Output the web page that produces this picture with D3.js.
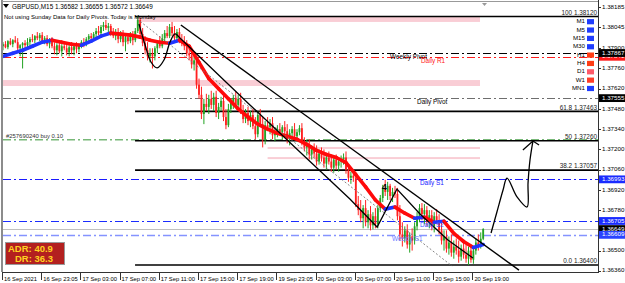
<!DOCTYPE html>
<html><head><meta charset="utf-8">
<script src="https://cdn.jsdelivr.net/npm/d3@7"></script>
<style>html,body{margin:0;padding:0;background:#fff;overflow:hidden}svg{display:block;font-family:"Liberation Sans",Arial,sans-serif}</style>
</head><body><svg id="c" width="625" height="283"></svg>
<script>
// ---------------- DATA ----------------
const symbolName = "GBPUSD,M15";
const lastQuote = ["1.36582","1.36655","1.36572","1.36649"];
const infoText = "Not using Sunday Data for Daily Pivots.  Today is Monday";
const timeLabels = ["16 Sep 2021","16 Sep 23:05","17 Sep 03:00","17 Sep 07:00","17 Sep 11:00","17 Sep 15:00","17 Sep 19:00","19 Sep 23:05","20 Sep 03:00","20 Sep 07:00","20 Sep 11:00","20 Sep 15:00","20 Sep 19:00"];
const timeLabelStep = 16;
const priceTicks = [1.38185,1.38045,1.37900,1.37760,1.37620,1.37480,1.37340,1.37200,1.37060,1.36920,1.36780,1.36640,1.36500,1.36360];
// [open, high, low, close] per M15 bar
const candles = [
[1.37914,1.37942,1.37886,1.37928],[1.37928,1.37949,1.37900,1.37907],[1.37907,1.37956,1.37893,1.37949],[1.37949,1.37970,1.37921,1.37928],[1.37928,1.37963,1.37907,1.37956],
[1.37956,1.37984,1.37935,1.37942],[1.37942,1.37970,1.37872,1.37900],[1.37900,1.37928,1.37844,1.37921],[1.37921,1.37942,1.37760,1.37935],[1.37935,1.37956,1.37900,1.37921],
[1.37921,1.37970,1.37907,1.37942],[1.37942,1.37977,1.37914,1.37963],[1.37963,1.37998,1.37942,1.37956],[1.37956,1.37991,1.37935,1.37984],[1.37984,1.38012,1.37956,1.37970],
[1.37970,1.38005,1.37949,1.37991],[1.37991,1.38012,1.37935,1.37949],[1.37949,1.37984,1.37928,1.37970],[1.37970,1.37991,1.37914,1.37928],[1.37928,1.37970,1.37900,1.37956],
[1.37956,1.37977,1.37900,1.37914],[1.37914,1.37942,1.37858,1.37886],[1.37886,1.37935,1.37851,1.37921],[1.37921,1.37942,1.37865,1.37879],[1.37879,1.37928,1.37844,1.37914],
[1.37914,1.37949,1.37886,1.37900],[1.37900,1.37935,1.37851,1.37872],[1.37872,1.37921,1.37844,1.37907],[1.37907,1.37942,1.37858,1.37886],[1.37886,1.37928,1.37851,1.37914],
[1.37914,1.37942,1.37865,1.37893],[1.37893,1.37935,1.37872,1.37921],[1.37921,1.37956,1.37900,1.37942],[1.37942,1.37970,1.37907,1.37928],[1.37928,1.37977,1.37914,1.37963],
[1.37963,1.37998,1.37942,1.37984],[1.37984,1.38005,1.37949,1.37970],[1.37970,1.38012,1.37956,1.37998],[1.37998,1.38040,1.37977,1.38019],[1.38019,1.38054,1.37991,1.38005],
[1.38005,1.38061,1.37984,1.38047],[1.38047,1.38082,1.38019,1.38061],[1.38061,1.38096,1.38026,1.38040],[1.38040,1.38075,1.38012,1.38054],[1.38054,1.38068,1.37984,1.38005],
[1.38005,1.38040,1.37970,1.37984],[1.37984,1.38033,1.37956,1.38012],[1.38012,1.38040,1.37935,1.37963],[1.37963,1.38019,1.37942,1.37998],[1.37998,1.38026,1.37914,1.37942],
[1.37942,1.37998,1.37879,1.37977],[1.37977,1.38005,1.37928,1.37949],[1.37949,1.38012,1.37935,1.37991],[1.37991,1.38019,1.37921,1.37956],[1.37956,1.38040,1.37942,1.38019],
[1.38019,1.38120,1.38005,1.38096],[1.38096,1.38110,1.37970,1.37998],[1.37998,1.38040,1.37914,1.37935],[1.37935,1.37984,1.37858,1.37886],[1.37886,1.37942,1.37816,1.37844],
[1.37844,1.37900,1.37802,1.37865],[1.37865,1.37900,1.37760,1.37844],[1.37844,1.37914,1.37816,1.37900],[1.37900,1.37956,1.37865,1.37935],[1.37935,1.37984,1.37900,1.37914],
[1.37914,1.37998,1.37900,1.37970],[1.37970,1.38026,1.37942,1.38005],[1.38005,1.38054,1.37970,1.37984],[1.37984,1.38068,1.37970,1.38047],[1.38047,1.38082,1.37984,1.38005],
[1.38005,1.38054,1.37956,1.37970],[1.37970,1.38033,1.37942,1.38012],[1.38012,1.38040,1.37935,1.37956],[1.37956,1.37998,1.37914,1.37935],[1.37935,1.37984,1.37886,1.37914],
[1.37914,1.37956,1.37844,1.37865],[1.37865,1.37900,1.37816,1.37851],[1.37851,1.37886,1.37760,1.37788],[1.37788,1.37844,1.37746,1.37816],[1.37816,1.37844,1.37620,1.37648],
[1.37648,1.37690,1.37550,1.37578],[1.37578,1.37634,1.37410,1.37445],[1.37445,1.37550,1.37375,1.37515],[1.37515,1.37585,1.37466,1.37494],[1.37494,1.37578,1.37445,1.37550],
[1.37550,1.37606,1.37480,1.37508],[1.37508,1.37592,1.37466,1.37564],[1.37564,1.37606,1.37424,1.37452],[1.37452,1.37522,1.37410,1.37494],[1.37494,1.37564,1.37466,1.37536],
[1.37536,1.37578,1.37396,1.37424],[1.37424,1.37480,1.37340,1.37368],[1.37368,1.37515,1.37354,1.37480],[1.37480,1.37550,1.37452,1.37522],[1.37522,1.37578,1.37480,1.37557],
[1.37557,1.37599,1.37494,1.37508],[1.37508,1.37578,1.37480,1.37550],[1.37550,1.37592,1.37445,1.37466],[1.37466,1.37508,1.37382,1.37410],[1.37410,1.37480,1.37382,1.37452],
[1.37452,1.37494,1.37368,1.37396],[1.37396,1.37466,1.37354,1.37438],[1.37438,1.37480,1.37340,1.37361],[1.37361,1.37424,1.37270,1.37305],[1.37305,1.37466,1.37284,1.37438],
[1.37438,1.37480,1.37354,1.37375],[1.37375,1.37424,1.37214,1.37270],[1.37270,1.37396,1.37235,1.37368],[1.37368,1.37424,1.37326,1.37354],[1.37354,1.37410,1.37305,1.37382],
[1.37382,1.37424,1.37270,1.37298],[1.37298,1.37354,1.37256,1.37326],[1.37326,1.37368,1.37284,1.37340],[1.37340,1.37382,1.37298,1.37319],[1.37319,1.37368,1.37270,1.37354],
[1.37354,1.37396,1.37305,1.37326],[1.37326,1.37375,1.37242,1.37270],[1.37270,1.37340,1.37228,1.37312],[1.37312,1.37361,1.37284,1.37340],[1.37340,1.37382,1.37270,1.37291],
[1.37291,1.37340,1.37256,1.37319],[1.37319,1.37368,1.37298,1.37347],[1.37347,1.37382,1.37228,1.37249],[1.37249,1.37284,1.37186,1.37214],[1.37214,1.37270,1.37158,1.37235],
[1.37235,1.37270,1.37130,1.37165],[1.37165,1.37228,1.37130,1.37200],[1.37200,1.37242,1.37144,1.37172],[1.37172,1.37228,1.37088,1.37116],[1.37116,1.37200,1.37095,1.37172],
[1.37172,1.37214,1.37116,1.37144],[1.37144,1.37200,1.37074,1.37102],[1.37102,1.37172,1.37060,1.37144],[1.37144,1.37186,1.37095,1.37116],[1.37116,1.37165,1.37046,1.37074],
[1.37074,1.37144,1.37039,1.37130],[1.37130,1.37165,1.37060,1.37088],[1.37088,1.37144,1.37046,1.37116],[1.37116,1.37158,1.37074,1.37130],[1.37130,1.37172,1.37095,1.37144],
[1.37144,1.37186,1.37032,1.37060],[1.37060,1.37095,1.36976,1.37004],[1.37004,1.37046,1.36962,1.37018],[1.37018,1.37060,1.36976,1.37004],[1.37004,1.37046,1.36801,1.36822],
[1.36822,1.36878,1.36745,1.36780],[1.36780,1.36850,1.36696,1.36724],[1.36724,1.36815,1.36654,1.36794],[1.36794,1.36850,1.36668,1.36696],[1.36696,1.36780,1.36654,1.36752],
[1.36752,1.36808,1.36640,1.36675],[1.36675,1.36766,1.36647,1.36738],[1.36738,1.36794,1.36654,1.36682],[1.36682,1.36815,1.36654,1.36794],[1.36794,1.36885,1.36766,1.36864],
[1.36864,1.36955,1.36836,1.36934],[1.36934,1.36990,1.36878,1.36906],[1.36906,1.36976,1.36850,1.36948],[1.36948,1.36962,1.36850,1.36878],[1.36878,1.36934,1.36836,1.36906],
[1.36906,1.36948,1.36864,1.36892],[1.36892,1.36934,1.36710,1.36738],[1.36738,1.36815,1.36570,1.36612],[1.36612,1.36696,1.36528,1.36584],[1.36584,1.36668,1.36556,1.36640],
[1.36640,1.36682,1.36514,1.36542],[1.36542,1.36626,1.36486,1.36598],[1.36598,1.36654,1.36500,1.36570],[1.36570,1.36696,1.36542,1.36668],[1.36668,1.36766,1.36640,1.36738],
[1.36738,1.36822,1.36696,1.36794],[1.36794,1.36829,1.36710,1.36752],[1.36752,1.36822,1.36682,1.36780],[1.36780,1.36808,1.36668,1.36710],[1.36710,1.36780,1.36654,1.36745],
[1.36745,1.36780,1.36640,1.36668],[1.36668,1.36766,1.36626,1.36738],[1.36738,1.36787,1.36682,1.36710],[1.36710,1.36752,1.36612,1.36640],[1.36640,1.36696,1.36542,1.36570],
[1.36570,1.36640,1.36500,1.36598],[1.36598,1.36640,1.36486,1.36514],[1.36514,1.36598,1.36472,1.36556],[1.36556,1.36612,1.36458,1.36486],[1.36486,1.36570,1.36444,1.36528],
[1.36528,1.36584,1.36472,1.36500],[1.36500,1.36570,1.36416,1.36458],[1.36458,1.36542,1.36430,1.36514],[1.36514,1.36556,1.36444,1.36472],[1.36472,1.36542,1.36416,1.36444],
[1.36444,1.36528,1.36400,1.36500],[1.36500,1.36542,1.36416,1.36437],[1.36437,1.36528,1.36409,1.36500],[1.36500,1.36584,1.36472,1.36556],[1.36556,1.36612,1.36500,1.36528],
[1.36528,1.36626,1.36514,1.36582],[1.36582,1.36655,1.36572,1.36649]
];
// moving average, sampled every 4 bars
const maStep = 4;
const maValues = [1.37844,1.37865,1.37886,1.37914,1.37942,1.37956,1.37942,1.37928,1.37921,1.37949,
 1.37984,1.38005,1.37998,1.37991,1.37977,1.37956,1.37942,1.37935,1.37956,1.37914,
 1.37802,1.37690,1.37620,1.37550,1.37480,1.37424,1.37375,1.37340,1.37312,1.37291,
 1.37270,1.37235,1.37193,1.37165,1.37144,1.37109,1.37025,1.36941,1.36850,1.36787,
 1.36801,1.36759,1.36724,1.36731,1.36696,1.36703,1.36619,1.36563,1.36521,1.36542];
const fibLevels = ["100","61.8","50","38.2","0.0"];
const fibPrices = [1.38120,1.37463,1.37260,1.37057,1.36400];
const fibStartBar = 53.9;
const pivotNames = ["Weekly Pivot","Daily R1","Daily Pivot","Daily S1","Daily S2","Weekly S1"];
const pivotPrices = [1.37867,1.37841,1.37555,1.36993,1.36705,1.36609];
const bidPrice = 1.36649;
const orderLabel = "#257690240 buy 0.10";
const orderPrice = 1.37260;
// supply/demand zones: bar from, bar to, price high, price low
const zoneFrom = [54.7,-0.4,108,108];
const zoneTo = [194.7,194.7,194.7,194.7];
const zoneHigh = [1.38117,1.37680,1.37217,1.37147];
const zoneLow = [1.38082,1.37639,1.37203,1.37134];
// drawn objects (bar index, price)
const trendUpper = [[72.6,1.38061],[210.6,1.36365]];
const trendDotted = [[54.7,1.38103],[183.3,1.36393]];
const waveCurve = [[55.5,1.38068],[58.0,1.37923],[60.4,1.37805],[62.9,1.37764],[65.7,1.37819],[68.2,1.37944],[70.2,1.37999],[71.8,1.37978]];
const waveLines = [[71.8,1.37978],[100.8,1.37508],[121.2,1.37182],[141.6,1.36857],[152.7,1.36663],[160.8,1.36926],[170.2,1.36753],[181.6,1.36573],[191.8,1.36449]];
const projection = [[199.2,1.36622],[201.6,1.36767],[204.1,1.36919],[205.7,1.37002],[209.8,1.36871],[213.9,1.36802],[214.3,1.36968],[215.1,1.37127],[216.3,1.37258]];
const arrowHead = [[212.2,1.37196],[216.3,1.37258],[218.8,1.37231]];
const waveLabel = ["4", 154.7, 1.36933];
const tfNames = ["M1","M5","M15","M30","H1","H4","D1","W1","MN1"];
const adrText = ["ADR: 40.9","DR: 36.3"];

// ---------------- DRAW ----------------
const svg = d3.select("#c");
const W = 625, H = 283, axisX = 598, plotTop = 2, plotBottom = 272;
const x = d3.scaleLinear().domain([0, candles.length - 1]).range([3, 483.2]);
const y = d3.scaleLinear().domain([1.36352, 1.38220]).range([plotBottom, plotTop]);
const fmt = d3.format(".5f");
const dashdot = "8,3,2,3";

svg.append("rect").attr("width", W).attr("height", H).attr("fill", "#fff");
const plot = svg.append("g");
plot.append("clipPath").attr("id","clip").append("rect").attr("x",3).attr("y",plotTop).attr("width",axisX-3).attr("height",plotBottom-plotTop);
const P = plot.append("g").attr("clip-path","url(#clip)");

// zones
P.selectAll("rect.zone").data(zoneFrom).join("rect").attr("class","zone")
  .attr("x",(d)=>x(d)).attr("width",(d,i)=>x(zoneTo[i])-x(d))
  .attr("y",(d,i)=>y(zoneHigh[i])).attr("height",(d,i)=>Math.max(2,y(zoneLow[i])-y(zoneHigh[i])))
  .attr("fill","#f9cdd5");

// order line
P.append("line").attr("x1",3).attr("x2",axisX).attr("y1",y(orderPrice)-1).attr("y2",y(orderPrice)-1)
  .attr("stroke","#78b878").attr("stroke-width",1.3).attr("stroke-dasharray",dashdot);

// pivot lines
const pivotColors = ["#000000","#ff1a1a","#6e6e6e","#1a1aff","#1a2cff","#8593ff"];
const pivotWidths = [1,1,1,1,1,1.6];
P.selectAll("line.piv").data(pivotPrices).join("line").attr("class","piv")
  .attr("x1",3).attr("x2",axisX).attr("y1",d=>Math.round(y(d))+0.5).attr("y2",d=>Math.round(y(d))+0.5)
  .attr("stroke",(d,i)=>pivotColors[i]).attr("stroke-width",(d,i)=>pivotWidths[i]).attr("stroke-dasharray",dashdot);

// bid line
P.append("line").attr("x1",3).attr("x2",axisX).attr("y1",Math.round(y(bidPrice))+0.5).attr("y2",Math.round(y(bidPrice))+0.5)
  .attr("stroke","#c0c0c0").attr("stroke-width",1);

// fib lines
P.selectAll("line.fib").data(fibPrices).join("line").attr("class","fib")
  .attr("x1",x(fibStartBar)).attr("x2",axisX).attr("y1",d=>y(d)).attr("y2",d=>y(d))
  .attr("stroke","#000").attr("stroke-width",1.6);

// candles
const cg = P.append("g");
cg.selectAll("line.wick").data(candles).join("line").attr("class","wick")
  .attr("x1",(d,i)=>x(i)).attr("x2",(d,i)=>x(i)).attr("y1",d=>y(d[1])).attr("y2",d=>y(d[2]))
  .attr("stroke",d=>d[3]>=d[0]?"#22a322":"#ff2020").attr("stroke-width",1);
cg.selectAll("rect.body").data(candles).join("rect").attr("class","body")
  .attr("x",(d,i)=>x(i)-0.9).attr("width",1.8)
  .attr("y",d=>y(Math.max(d[0],d[3]))).attr("height",d=>Math.max(1,Math.abs(y(d[0])-y(d[3]))))
  .attr("fill",d=>d[3]>=d[0]?"#22a322":"#ff2020");

// moving average
const maSegs = d3.pairs(maValues.map((v,k)=>[k*maStep,v]));
const mg = P.append("g");
mg.selectAll("line").data(maSegs).join("line")
  .attr("x1",d=>x(d[0][0])).attr("y1",d=>y(d[0][1])).attr("x2",d=>x(d[1][0])).attr("y2",d=>y(d[1][1]))
  .attr("stroke",d=>d[1][1]>d[0][1]?"#1f35ff":"#ff0a0a").attr("stroke-width",3.6).attr("stroke-linecap","round");

// trend lines and drawings
const ln = ()=>d3.line().x(d=>x(d[0])).y(d=>y(d[1]));
P.append("path").attr("d",ln()(trendDotted)).attr("fill","none").attr("stroke","#777").attr("stroke-width",0.9).attr("stroke-dasharray","2,2");
P.append("path").attr("d",ln()(trendUpper)).attr("fill","none").attr("stroke","#000").attr("stroke-width",1.4);
P.append("path").attr("d",ln().curve(d3.curveCatmullRom.alpha(0.5))(waveCurve)).attr("fill","none").attr("stroke","#000").attr("stroke-width",1.3);
P.append("path").attr("d",ln()(waveLines)).attr("fill","none").attr("stroke","#000").attr("stroke-width",1.3);
P.append("path").attr("d",ln().curve(d3.curveCatmullRom.alpha(0.5))(projection)).attr("fill","none").attr("stroke","#000").attr("stroke-width",1.3);
P.append("path").attr("d",ln()(arrowHead)).attr("fill","none").attr("stroke","#000").attr("stroke-width",1.3);
P.append("text").attr("x",x(waveLabel[1])).attr("y",y(waveLabel[2])).attr("dominant-baseline","middle")
  .attr("font-size",8.5).attr("font-weight","bold").attr("fill","#000").text(waveLabel[0]);

// pivot labels
const pivotTextColors = ["#000","#ff1a1a","#000","#1a1aff","#3a55ff","#6b7bff"];
const pivotLabelBar = [158,170.6,169,170.2,170.2,158.8];
P.selectAll("text.piv").data(pivotNames).join("text").attr("class","piv")
  .attr("x",(d,i)=>x(pivotLabelBar[i])).attr("y",(d,i)=>y(pivotPrices[i])+4.3)
  .attr("dominant-baseline","middle").attr("font-size",6.4).attr("fill",(d,i)=>pivotTextColors[i]).text(d=>d);

// fib labels
P.selectAll("text.fib").data(fibLevels).join("text").attr("class","fib")
  .attr("x",axisX-1).attr("y",(d,i)=>y(fibPrices[i])-1.8).attr("text-anchor","end")
  .attr("font-size",6.4).attr("fill","#222").text((d,i)=>d+" "+fmt(fibPrices[i]));

// order label
P.append("text").attr("x",6).attr("y",y(orderPrice)-2.5).attr("font-size",5.9).attr("fill","#333").text(orderLabel);

// header
svg.append("path").attr("d","M3,4 L9,4 L6,8 Z").attr("fill","#000");
svg.append("text").attr("x",12).attr("y",8.5).attr("font-size",6.4).attr("fill","#000")
  .text(symbolName+"  "+lastQuote.join(" "));
svg.append("text").attr("x",4).attr("y",18.5).attr("font-size",6.0).attr("fill","#000").text(infoText);
svg.append("path").attr("d","M482,3 L487,3 L484.5,6 Z").attr("fill","#999");

// frame
svg.append("line").attr("x1",2).attr("x2",2).attr("y1",0).attr("y2",plotBottom).attr("stroke","#666").attr("stroke-width",1.5);
svg.append("line").attr("x1",2).attr("x2",axisX).attr("y1",1.5).attr("y2",1.5).attr("stroke","#999").attr("stroke-width",1);
svg.append("line").attr("x1",2).attr("x2",axisX+0.5).attr("y1",plotBottom+0.5).attr("y2",plotBottom+0.5).attr("stroke","#333").attr("stroke-width",1);
svg.append("line").attr("x1",axisX+0.5).attr("x2",axisX+0.5).attr("y1",0).attr("y2",plotBottom+1).attr("stroke","#333").attr("stroke-width",1);

// price boxes (drawn over the axis labels)
const boxes = [[pivotPrices[1],"#ff1a1a"],[pivotPrices[0],"#000"],[pivotPrices[2],"#000"],[pivotPrices[3],"#1a2cff"],[pivotPrices[4],"#1a2cff"],[bidPrice,"#000"],[pivotPrices[5],"#2a44ff"]];
const boxY = boxes.map(b=>y(b[0]));
// price axis (labels hidden where a price box covers them)
const visTicks = priceTicks.filter(t=>boxY.every(by=>Math.abs(by-y(t))>4.5));
const ya = svg.append("g");
ya.selectAll("line").data(priceTicks).join("line").attr("x1",axisX).attr("x2",axisX+3)
  .attr("y1",d=>Math.round(y(d))+0.5).attr("y2",d=>Math.round(y(d))+0.5).attr("stroke","#333");
ya.selectAll("text").data(visTicks).join("text").attr("x",axisX+4).attr("y",d=>y(d))
  .attr("dominant-baseline","middle").attr("font-size",6.2).attr("fill","#000").text(d=>fmt(d));

const bg = svg.append("g");
boxes.forEach(b=>{
  const yy = y(b[0]);
  bg.append("rect").attr("x",axisX+1).attr("y",yy-3.9).attr("width",W-axisX-1).attr("height",7.8).attr("fill",b[1]);
  bg.append("text").attr("x",axisX+4).attr("y",yy).attr("dominant-baseline","middle").attr("font-size",6.2).attr("fill","#fff").text(fmt(b[0]));
});

// time axis
const xa = svg.append("g");
xa.selectAll("line").data(timeLabels).join("line")
  .attr("x1",(d,i)=>Math.round(x(i*timeLabelStep))-0.5).attr("x2",(d,i)=>Math.round(x(i*timeLabelStep))-0.5)
  .attr("y1",plotBottom).attr("y2",plotBottom+8).attr("stroke","#333");
xa.selectAll("text").data(timeLabels).join("text")
  .attr("x",(d,i)=>x(i*timeLabelStep)+1).attr("y",281).attr("font-size",5.8).attr("fill","#000").text(d=>d);

// timeframe legend
const tfColors = ["#1f3dff","#1f3dff","#1f3dff","#1f3dff","#ff3c14","#ff3c14","#ff5a6a","#ff3c28","#1f3dff"];
const lg = svg.append("g");
tfNames.forEach((n,i)=>{
  const cy = 21.7 + i*8.35;
  lg.append("text").attr("x",585).attr("y",cy).attr("text-anchor","end").attr("dominant-baseline","middle")
    .attr("font-size",6.2).attr("fill","#000").text(n);
  lg.append("rect").attr("x",587).attr("y",cy-2.6).attr("width",7).attr("height",5.2).attr("fill",tfColors[i]);
});

// ADR box
const ab = svg.append("g");
ab.append("rect").attr("x",5.5).attr("y",242.5).attr("width",59).attr("height",22).attr("fill","#b3201f").attr("stroke","#999").attr("stroke-width",1);
ab.append("text").attr("x",8).attr("y",252).attr("font-size",9.5).attr("font-weight","bold").attr("fill","#ffd21f").text(adrText[0]);
ab.append("text").attr("x",15).attr("y",262).attr("font-size",9.5).attr("font-weight","bold").attr("fill","#ffd21f").text(adrText[1]);
</script></body></html>
